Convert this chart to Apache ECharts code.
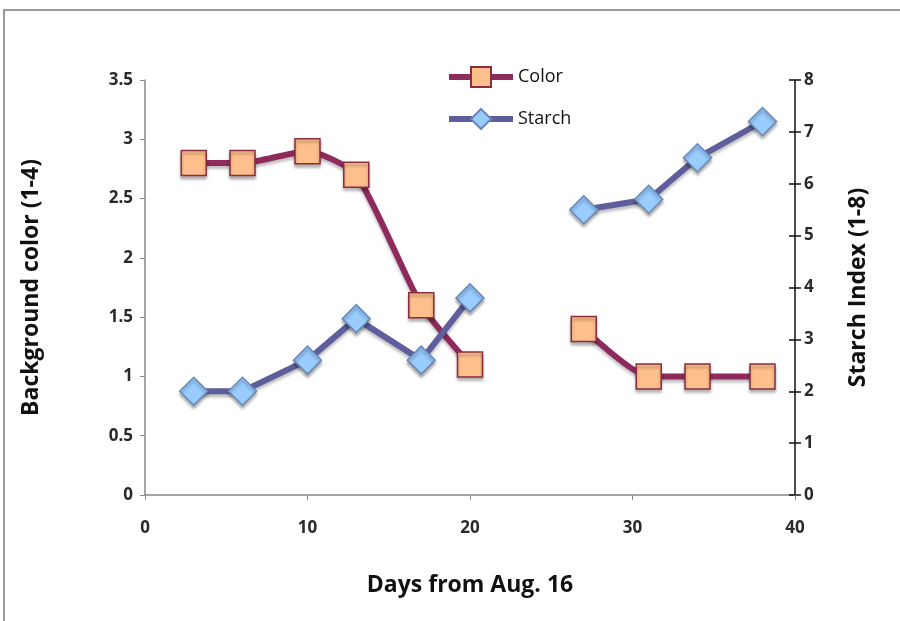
<!DOCTYPE html>
<html>
<head>
<meta charset="utf-8">
<script src="https://cdn.jsdelivr.net/npm/echarts@6/dist/echarts.min.js"></script>
<style>
  html, body { margin: 0; padding: 0; background: #fff; }
  #main { width: 900px; height: 621px; }
</style>
</head>
<body>
<div id="main"></div>
<script>
// days from Aug. 16 (gap between 20 and 27)
var daysEarly = [3, 6, 10, 13, 17, 20];
var daysLate = [27, 31, 34, 38];
var colorEarly = [2.8, 2.8, 2.9, 2.7, 1.6, 1.1];
var colorLate = [1.4, 1.0, 1.0, 1.0];
var starchEarly = [2.0, 2.0, 2.6, 3.4, 2.6, 3.8];
var starchLate = [5.5, 5.7, 6.5, 7.2];

function pairs(xs, ys) {
    var out = [];
    for (var i = 0; i < xs.length; i++) {
        out.push([xs[i], ys[i]]);
    }
    return out;
}
// join the two runs with an empty point so the line breaks
function withGap(e1, e2, l1, l2) {
    return pairs(e1, e2).concat([[24, '-']]).concat(pairs(l1, l2));
}

var font = 'Open Sans';
var nameStyle = { fontFamily: font, fontSize: 23, fontWeight: 'bold', color: '#111' };
var tickStyle = { fontFamily: font, fontSize: 17, fontWeight: 'bold', color: '#2a2a2a' };
var chart = echarts.init(document.getElementById('main'));

var option = {
    backgroundColor: '#fff',
    animation: false,
    graphic: [{
        type: 'rect',
        shape: { x: 4, y: 10, width: 900, height: 640 },
        style: { fill: 'none', stroke: '#9a9a9a', lineWidth: 2 }
    }],
    legend: {
        orient: 'vertical',
        left: 441,
        top: 61,
        itemWidth: 64,
        itemHeight: 25,
        itemGap: 20,
        lineStyle: { width: 6 },
        textStyle: { fontFamily: font, fontSize: 18, color: '#111' },
        data: ['Color', 'Starch']
    },
    grid: { left: 145, right: 105, top: 80, bottom: 126 },
    xAxis: {
        type: 'value',
        min: 0, max: 40, interval: 10,
        name: 'Days from Aug. 16',
        nameLocation: 'middle',
        nameGap: 79,
        nameTextStyle: nameStyle,
        axisLine: { lineStyle: { color: '#888', width: 1.5 } },
        axisTick: { show: true, length: 5, lineStyle: { color: '#888' } },
        axisLabel: Object.assign({ margin: 25 }, tickStyle),
        splitLine: { show: false }
    },
    yAxis: [{
        type: 'value',
        position: 'left',
        min: 0, max: 3.5, interval: 0.5,
        name: 'Background color (1-4)',
        nameLocation: 'middle',
        nameGap: 102,
        nameTextStyle: nameStyle,
        axisLine: { show: true, lineStyle: { color: '#888', width: 1.5 } },
        axisTick: { show: true, length: 5, lineStyle: { color: '#888' } },
        axisLabel: Object.assign({ margin: 12 }, tickStyle),
        splitLine: { show: false }
    }, {
        type: 'value',
        position: 'right',
        min: 0, max: 8, interval: 1,
        name: 'Starch Index (1-8)',
        nameLocation: 'middle',
        nameGap: 52,
        nameTextStyle: nameStyle,
        axisLine: { show: true, lineStyle: { color: '#111', width: 1.5 } },
        axisTick: { show: true, length: 6, lineStyle: { color: '#111', width: 1.5 } },
        axisLabel: Object.assign({ margin: 9 }, tickStyle),
        splitLine: { show: false }
    }, {
        // inner half of the cross ticks on the right axis
        type: 'value',
        position: 'right',
        min: 0, max: 8, interval: 1,
        axisLine: { show: false },
        axisTick: { show: true, inside: true, length: 6, lineStyle: { color: '#111', width: 1.5 } },
        axisLabel: { show: false },
        splitLine: { show: false }
    }],
    series: [{
        name: 'Color',
        type: 'line',
        yAxisIndex: 0,
        smooth: 0.2,
        connectNulls: false,
        symbol: 'rect',
        symbolSize: 25,
        data: withGap(daysEarly, colorEarly, daysLate, colorLate),
        lineStyle: {
            color: '#8e2a5c', width: 6,
            shadowColor: 'rgba(0,0,0,0.25)', shadowBlur: 3, shadowOffsetY: 3
        },
        itemStyle: {
            color: '#fdbf8c', borderColor: '#8a2e3e', borderWidth: 1.5,
            shadowColor: 'rgba(0,0,0,0.3)', shadowBlur: 3, shadowOffsetY: 3
        },
        z: 3
    }, {
        name: 'Starch',
        type: 'line',
        yAxisIndex: 1,
        connectNulls: false,
        symbol: 'diamond',
        symbolSize: 28,
        data: withGap(daysEarly, starchEarly, daysLate, starchLate),
        lineStyle: {
            color: '#5e5e9c', width: 6,
            shadowColor: 'rgba(0,0,0,0.25)', shadowBlur: 3, shadowOffsetY: 3
        },
        itemStyle: {
            color: '#99ccff', borderColor: '#6a88b8', borderWidth: 1.5,
            shadowColor: 'rgba(0,0,0,0.3)', shadowBlur: 3, shadowOffsetY: 3
        },
        z: 4
    }]
};
chart.setOption(option);
</script>
</body>
</html>
